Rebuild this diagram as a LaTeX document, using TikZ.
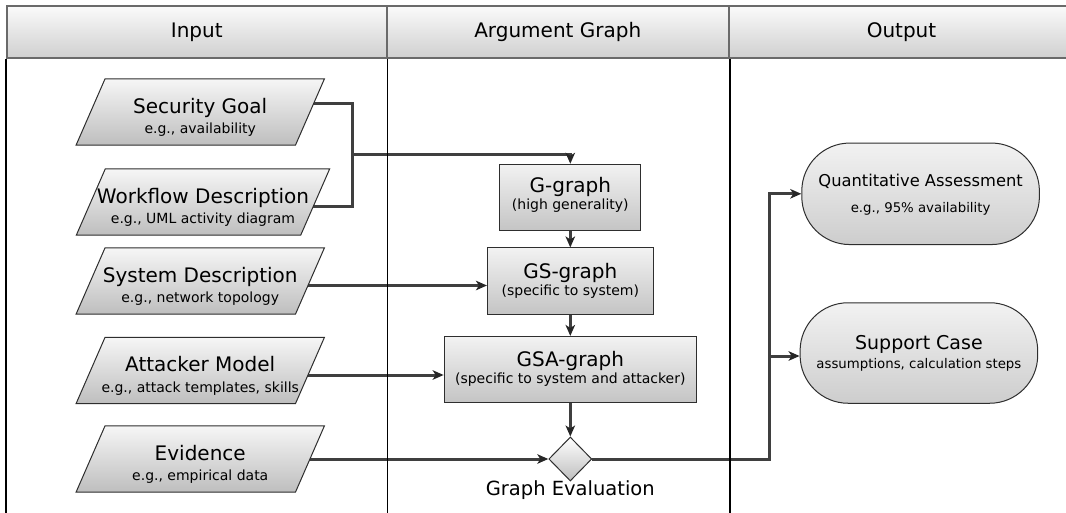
\documentclass[tikz,border=0pt]{standalone}
\usepackage{fontspec}
\setmainfont{DejaVu Sans}
\usetikzlibrary{shapes.geometric,arrows.meta}
\pgfdeclarelayer{bg}
\pgfsetlayers{bg,main}
\definecolor{connc}{HTML}{3F3F3F}
\definecolor{bordc}{HTML}{2E2E2E}
\definecolor{hdrc}{HTML}{6A6A6A}
\definecolor{shTop}{HTML}{F6F6F6}
\definecolor{shBot}{HTML}{BEBEBE}
\definecolor{bxTop}{HTML}{F2F2F2}
\definecolor{bxBot}{HTML}{C4C4C4}
\definecolor{ouTop}{HTML}{F2F2F2}
\definecolor{ouBot}{HTML}{CDCDCD}
\definecolor{hdTop}{HTML}{FAFAFA}
\definecolor{hdBot}{HTML}{D0D0D0}
\newcommand\TitleFont{\fontsize{20}{24}\selectfont}
\newcommand\SubFont{\fontsize{14}{17}\selectfont}
\newcommand\OutSubFont{\fontsize{13.3}{16}\selectfont}
\newcommand\ParaShape[1]{\path[pshape] ([xshift=14.5pt]#1.north west) -- ([xshift=14.5pt]#1.north east) -- ([xshift=-14.5pt]#1.south east) -- ([xshift=-14.5pt]#1.south west) -- cycle;}
\begin{document}
\begin{tikzpicture}[x=1pt,y=-1pt,
  hdr/.style={draw=hdrc, line width=2pt, top color=hdTop, bottom color=hdBot,
    minimum height=51.5, inner sep=0, text height=15, text depth=4.5, font=\TitleFont},
  colline/.style={draw=black, line width=1.1pt},
  pbox/.style={rectangle, minimum height=66, inner sep=0},
  pshape/.style={draw=bordc, line width=1pt, top color=shTop, bottom color=shBot},
  gbox/.style={rectangle, minimum height=66.5, inner sep=0,
    draw=bordc, line width=1pt, top color=bxTop, bottom color=bxBot},
  outbox/.style={rectangle, rounded corners=48, minimum width=237.6, inner sep=0,
    draw=bordc, line width=1pt, top color=ouTop, bottom color=ouBot},
  dec/.style={diamond, minimum width=43, minimum height=44, inner sep=0,
    draw=bordc, line width=1pt, top color=white, bottom color=shBot},
  ttl/.style={anchor=base, inner sep=0, font=\TitleFont},
  sub/.style={anchor=base, inner sep=0, font=\SubFont},
  osub/.style={anchor=base, inner sep=0, font=\OutSubFont},
  conn/.style={draw=connc, line width=3pt},
  arr/.style={conn, -{Stealth[length=11pt,width=9.5pt,inset=3pt,color=black!85]}}
]
\useasboundingbox (0,0) rectangle (1066,512);

% header
\node[hdr, minimum width=379.5] (h1) at (196.75,31.75) {Input};
\node[hdr, minimum width=342.5] (h2) at (557.75,31.75) {Argument Graph};
\node[hdr, minimum width=345] (h3) at (901.5,31.75) {Output};

% column lines
\draw[colline] (h1.south west) -- ++(0,460);
\draw[colline] (h1.south east) -- ++(0,460);
\draw[colline] (h2.south east) -- ++(0,460);

% input shapes
\node[pbox, minimum width=219] (sg) at (200.25,112) {};
\ParaShape{sg}
\node[ttl] (sgT) at ([yshift=-1pt]sg.center) {Security Goal};
\node[sub] (sgS) at ([yshift=-21.5pt]sg.center) {e.g., availability};

\node[pbox, minimum width=224] (wf) at (203,202) {};
\ParaShape{wf}
\node[ttl] (wfT) at ([yshift=-1pt]wf.center) {Workflow Description};
\node[sub] (wfS) at ([yshift=-21.5pt]wf.center) {e.g., UML activity diagram};

\node[pbox, minimum width=219] (sd) at (200.25,281) {};
\ParaShape{sd}
\node[ttl] (sdT) at ([yshift=-1pt]sd.center) {System Description};
\node[sub] (sdS) at ([yshift=-21.5pt]sd.center) {e.g., network topology};

\node[pbox, minimum width=219] (am) at (200.25,370.5) {};
\ParaShape{am}
\node[ttl] (amT) at ([yshift=-1pt]am.center) {Attacker Model};
\node[sub] (amS) at ([yshift=-21.5pt]am.center) {e.g., attack templates, skills};

\node[pbox, minimum width=219] (ev) at (200.25,459) {};
\ParaShape{ev}
\node[ttl] (evT) at ([yshift=-1pt]ev.center) {Evidence};
\node[sub] (evS) at ([yshift=-21.5pt]ev.center) {e.g., empirical data};

% argument graph
\node[gbox, minimum width=141] (g) at (570.3,197.5) {};
\node[ttl] (gT) at ([yshift=5pt]g.center) {G-graph};
\node[sub] (gS) at ([yshift=-11.5pt]g.center) {(high generality)};

\node[gbox, minimum width=165.7] (gs) at (570.3,281.2) {};
\node[ttl] (gsT) at ([yshift=3pt]gs.center) {GS-graph};
\node[sub] (gsS) at ([yshift=-14pt]gs.center) {(specific to system)};

\node[gbox, minimum width=252.3] (gsa) at (570.3,369.7) {};
\node[ttl] (gsaT) at ([yshift=3pt]gsa.center) {GSA-graph};
\node[sub] (gsaS) at ([yshift=-14pt]gsa.center) {(specific to system and attacker)};

\node[dec] (de) at (570.3,459) {};
\node[anchor=base, inner sep=0, font=\fontsize{19.5}{23}\selectfont] (deL) at (570.3,495.5) {Graph Evaluation};

% output
\node[outbox, minimum height=101.5] (qa) at (920.6,193.8) {};
\node[anchor=base, inner sep=0, font=\fontsize{16.3}{20}\selectfont] (qaT) at ([yshift=7pt]qa.center) {Quantitative Assessment};
\node[osub] (qaS) at ([yshift=-18.5pt]qa.center) {e.g., 95\% availability};

\node[outbox, minimum height=100.5] (sc) at (918.9,353) {};
\node[anchor=base, inner sep=0, font=\fontsize{19}{23}\selectfont] (scT) at ([yshift=3.5pt]sc.center) {Support Case};
\node[osub] (scS) at ([yshift=-15.5pt]sc.center) {assumptions, calculation steps};

% connectors
\begin{pgfonlayer}{bg}
\coordinate (j) at (352,154.5);
\coordinate (sgo) at ([yshift=9pt]sg.center);
\coordinate (wfo) at ([yshift=-4.5pt]wf.center);
\coordinate (sdo) at ([yshift=-4.5pt]sd.center);
\coordinate (amo) at ([yshift=-4.5pt]am.center);
\coordinate (trunk) at (769,356);
\draw[conn] (sgo) -| (j);
\draw[conn] (wfo) -| (j);
\draw[arr] (j) -| (g.north);
\draw[arr] (g.south) -- (gs.north);
\draw[arr] (sdo) -- (sdo -| gs.west);
\draw[arr] (gs.south) -- (gsa.north);
\draw[arr] (amo) -- (amo -| gsa.west);
\draw[arr] (gsa.south) -- (de.north);
\draw[arr] (ev.center) -- (de.west);
\draw[arr] (de.east) -| (trunk) |- (qa.west);
\draw[arr] (trunk) -- (trunk -| sc.west);
\end{pgfonlayer}
\end{tikzpicture}
\end{document}
